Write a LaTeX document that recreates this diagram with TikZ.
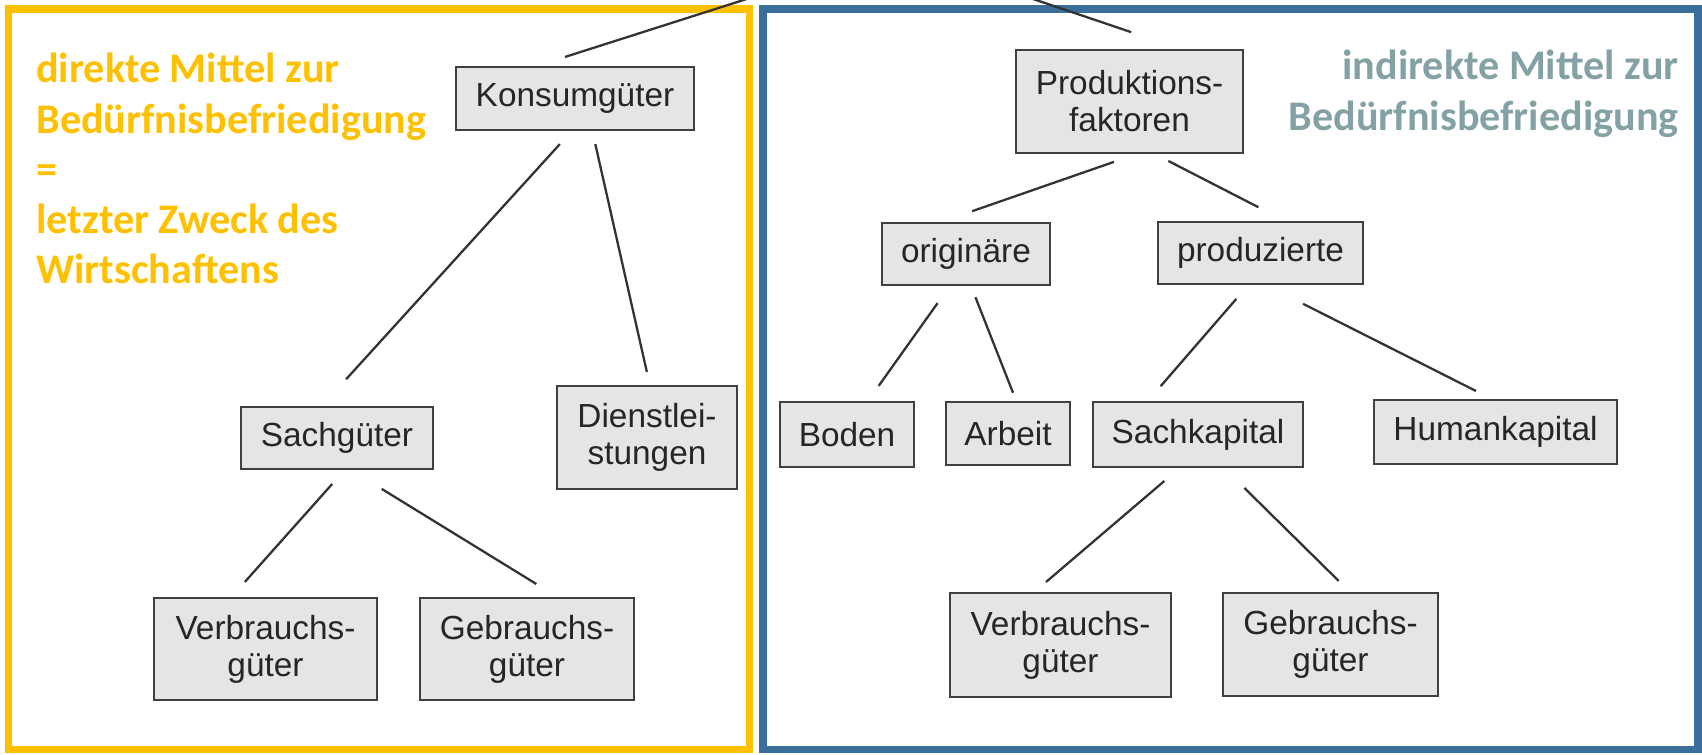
\documentclass[tikz,border=0pt]{standalone}
\usepackage{fontspec}
\setmainfont{Liberation Sans}
\newfontfamily\calibfont{Carlito}
\usepackage{tikz}
\definecolor{rahmengelb}{HTML}{FFC000}
\definecolor{rahmenblau}{HTML}{3A6E9B}
\definecolor{textgrau}{HTML}{84A2A5}
\newcommand{\gutfont}{\fontsize{19}{21}\selectfont}
\tikzset{%
	gutbox/.style={
		draw=black!75,
		fill=black!10,
		line width=1.4pt,
		inner sep=0pt,
		align=center,
		text=black!85,
		font=\gutfont
	},
	zweig/.style={
		line width=1.3pt,
		draw=black!80
	},
	hinweis/.style={
		font=\calibfont\bfseries\fontsize{24}{28.6}\selectfont,
		inner sep=0pt
	},
}

\begin{document}
\begin{tikzpicture}[x=0.02cm, y=-0.02cm]
	\useasboundingbox (0,0) rectangle (1702,754);
	\clip (0,0) rectangle (1702,754);

	% Draw the two frames
	\draw[rahmengelb, line width=4.3pt] (8.5,9) rectangle (749.5,749.5);
	\draw[rahmenblau, line width=4.5pt] (763,9) rectangle (1698,749.5);

	% Draw the texts in the frames
	\node[hinweis, text=rahmengelb, align=left, anchor=north west] (direkt) at (36,53) {direkte Mittel zur\\Bedürfnisbefriedigung\\=\\letzter Zweck des\\Wirtschaftens};
	\node[hinweis, text=textgrau, align=right, anchor=north east] (indirekt) at (1679,50) {indirekte Mittel zur\\Bedürfnisbefriedigung};

	% Draw the boxes on the left
	\node[gutbox, minimum width=4.76cm, minimum height=1.26cm] (konsum) at (575,98.5) {Konsumgüter};
	\node[gutbox, minimum width=3.84cm, minimum height=1.24cm] (sachg) at (337,438) {Sachgüter};
	\node[gutbox, minimum width=3.60cm, minimum height=2.06cm] (dienst) at (647,437.5) {Dienstlei-\\stungen};
	\node[gutbox, minimum width=4.46cm, minimum height=2.04cm] (verbrL) at (265.5,649) {Verbrauchs-\\güter};
	\node[gutbox, minimum width=4.28cm, minimum height=2.04cm] (gebrL) at (527,649) {Gebrauchs-\\güter};

	% Draw the boxes on the right
	\node[gutbox, minimum width=4.54cm, minimum height=2.06cm] (prodf) at (1129.5,101.5) {Produktions-\\faktoren};
	\node[gutbox, minimum width=3.36cm, minimum height=1.24cm] (orig) at (966,254) {originäre};
	\node[gutbox, minimum width=4.10cm, minimum height=1.24cm] (produz) at (1260.5,253) {produzierte};
	\node[gutbox, minimum width=2.68cm, minimum height=1.30cm] (boden) at (847,434.5) {Boden};
	\node[gutbox, minimum width=2.48cm, minimum height=1.26cm] (arbeit) at (1008,433.5) {Arbeit};
	\node[gutbox, minimum width=4.20cm, minimum height=1.30cm] (sachk) at (1198,434.5) {Sachkapital};
	\node[gutbox, minimum width=4.86cm, minimum height=1.28cm] (human) at (1495.5,432) {Humankapital};
	\node[gutbox, minimum width=4.42cm, minimum height=2.08cm] (verbrR) at (1060.5,645) {Verbrauchs-\\güter};
	\node[gutbox, minimum width=4.30cm, minimum height=2.06cm] (gebrR) at (1330.5,644.5) {Gebrauchs-\\güter};

	% Draw the lines
	\coordinate (gueter) at (894,-48);
	\draw[zweig, shorten >=16.5pt] (gueter) -- (konsum.139);
	\draw[zweig, shorten >=29.6pt] (gueter) -- (prodf.46);
	\draw[zweig, shorten <=9.9pt, shorten >=20.4pt] (konsum.264) -- (sachg.115);
	\draw[zweig, shorten <=7.5pt, shorten >=7.5pt] (konsum.298) -- (dienst.87);
	\draw[zweig, shorten <=10.5pt, shorten >=11.3pt] (sachg.283) -- (verbrL.123);
	\draw[zweig, shorten <=20.3pt, shorten >=13.9pt] (sachg.294) -- (gebrL.60);
	\draw[zweig, shorten <=13.3pt, shorten >=18.3pt] (prodf.277) -- (orig.127);
	\draw[zweig, shorten <=8.4pt, shorten >=16.9pt] (prodf.296) -- (produz.53);
	\draw[zweig, shorten <=11.8pt, shorten >=10.4pt] (orig.243) -- (boden.58);
	\draw[zweig, shorten <=6.7pt, shorten >=4.9pt] (orig.279) -- (arbeit.76);
	\draw[zweig, shorten <=10.3pt, shorten >=11pt] (produz.249) -- (sachk.146);
	\draw[zweig, shorten <=23.5pt, shorten >=9.9pt] (produz.280) -- (human.97);
	\draw[zweig, shorten <=11.2pt, shorten >=8.6pt] (sachk.241) -- (verbrR.116);
	\draw[zweig, shorten <=16pt, shorten >=8.8pt] (sachk.308) -- (gebrR.70);
\end{tikzpicture}
\end{document}
